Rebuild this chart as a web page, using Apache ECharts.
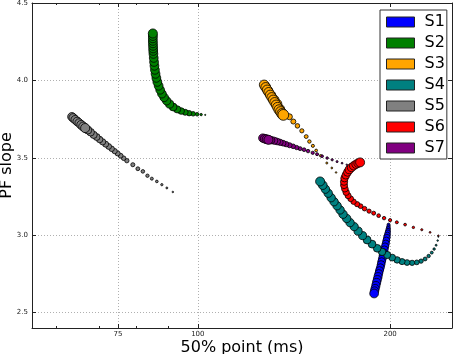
<!DOCTYPE html>
<html>
<head>
<meta charset="utf-8">
<title>PF slope vs 50% point</title>
<script src="https://cdn.jsdelivr.net/npm/echarts@6/dist/echarts.min.js"></script>
<style>html,body{margin:0;padding:0;background:#fff;}</style>
</head>
<body>
<div id="main" style="width:454px;height:354px;"></div>
<script type="text/javascript">
// each point: [50% point (ms), PF slope, marker weight], drawn from the thin tail to the big marker
var s1 = [[198.9,3.068,2.5],[198.8,3.055,3],[198.7,3.042,3.5],[198.5,3.029,4],[198.3,3.016,4.5],[198.0,3.000,5],[197.7,2.984,5.5],[197.3,2.965,5.8],[196.9,2.945,6],[196.4,2.926,6.2],[195.9,2.906,6.3],[195.4,2.887,6.4],[195.0,2.868,6.5],[194.5,2.848,6.5],[194.0,2.829,6.5],[193.6,2.810,6.5],[193.1,2.790,6.5],[192.5,2.771,6.6],[192.0,2.752,6.6],[191.5,2.732,6.7],[191.0,2.713,6.7],[190.5,2.694,6.8],[190.0,2.674,6.8],[189.5,2.655,6.9],[189.1,2.639,7],[188.8,2.623,7.3]];
var s2 = [[102.7,3.777,1],[101.2,3.779,2],[99.75,3.781,3],[98.32,3.784,3.8],[96.91,3.788,4.5],[95.53,3.794,5],[94.16,3.802,5.5],[92.81,3.813,6],[91.48,3.828,6.5],[90.33,3.847,6.8],[89.36,3.868,7],[88.56,3.890,7.1],[87.86,3.914,7.2],[87.29,3.939,7.2],[86.82,3.965,7.3],[86.42,3.990,7.3],[86.11,4.016,7.3],[85.86,4.042,7.3],[85.67,4.068,7.3],[85.52,4.094,7.3],[85.40,4.119,7.3],[85.30,4.145,7.3],[85.21,4.171,7.3],[85.15,4.190,7.3],[85.12,4.206,7.3],[85.09,4.223,7.3],[85.06,4.239,7.3],[85.03,4.255,7.3],[85.03,4.271,7.3],[85.03,4.287,7.4],[85.03,4.303,7.6]];
var s3 = [[164.6,3.405,1.3],[162.1,3.434,1.5],[159.2,3.466,1.7],[155.7,3.513,2],[153.2,3.547,2.3],[151.4,3.577,2.6],[149.5,3.605,2.9],[147.8,3.637,3.2],[145.5,3.674,3.5],[143.2,3.706,3.8],[141.1,3.734,4.2],[139.1,3.765,5],[136.1,3.777,7],[134.5,3.816,7.5],[133.1,3.848,7.8],[131.7,3.874,8],[130.2,3.903,8],[128.8,3.932,8],[127.7,3.958,8],[127.0,3.971,8],[127.7,3.955,8],[128.4,3.939,8],[129.1,3.923,8],[129.8,3.906,8],[130.5,3.890,8],[131.2,3.874,8],[131.9,3.858,8],[132.6,3.842,8],[133.3,3.826,8.2],[134.0,3.810,8.4],[134.8,3.797,8.6],[135.5,3.784,8.8],[136.1,3.777,9]];
var s4 = [[238.0,2.990,1],[237.4,2.965,1.3],[236.1,2.935,1.6],[234.4,2.910,2],[232.4,2.887,2.4],[229.8,2.865,2.8],[226.9,2.846,3.2],[223.6,2.832,3.6],[220.2,2.824,4],[216.5,2.821,4.4],[212.6,2.823,4.8],[208.8,2.829,5.1],[205.1,2.840,5.4],[201.5,2.855,5.7],[197.9,2.872,6],[194.3,2.892,6.2],[190.9,2.915,6.4],[187.4,2.942,6.5],[184.1,2.969,6.6],[181.1,2.997,6.7],[178.2,3.026,6.8],[175.7,3.055,6.9],[173.1,3.081,7],[171.0,3.108,7],[168.8,3.135,7],[167.0,3.163,7],[165.2,3.190,7],[163.4,3.216,7],[161.7,3.242,7],[160.0,3.271,7],[158.4,3.297,7],[156.9,3.323,7.2],[155.4,3.347,7.5]];
var s5 = [[91.38,3.279,1.3],[89.43,3.305,1.6],[87.83,3.326,1.9],[86.26,3.347,2.2],[84.72,3.365,2.5],[83.39,3.384,2.8],[82.02,3.412,3],[80.55,3.429,3.2],[79.11,3.455,3.4],[77.42,3.481,3.6],[76.53,3.497,3.8],[75.71,3.513,4],[74.89,3.528,4.2],[74.09,3.543,4.4],[73.29,3.558,4.6],[72.51,3.573,4.8],[71.72,3.588,5],[70.95,3.603,5.2],[70.19,3.618,5.4],[69.44,3.634,5.7],[68.69,3.648,6],[67.95,3.665,6.3],[67.27,3.679,6.6],[66.62,3.692,6.9],[65.66,3.713,7],[64.72,3.735,7],[63.91,3.755,7],[63.50,3.765,7],[63.80,3.758,7],[64.26,3.746,7],[64.72,3.735,7],[65.19,3.725,7],[65.66,3.713,7.2],[66.14,3.702,7.4],[66.62,3.692,7.6]];
var s6 = [[238.0,2.997,1.2],[231.0,3.018,1.5],[224.2,3.035,1.8],[217.5,3.050,2],[211.1,3.068,2.3],[204.9,3.083,2.5],[200.0,3.097,2.7],[195.7,3.110,2.9],[191.9,3.126,3.1],[188.5,3.142,3.3],[185.4,3.155,3.5],[182.4,3.171,3.8],[179.8,3.187,4],[177.6,3.200,4.3],[175.3,3.216,4.5],[173.5,3.235,4.8],[171.9,3.255,5],[170.7,3.277,5.3],[169.9,3.300,5.5],[169.4,3.323,5.8],[169.4,3.345,6],[169.7,3.368,6.2],[170.5,3.387,6.4],[171.5,3.406,6.6],[172.6,3.423,6.8],[174.0,3.437,7],[175.4,3.448,7],[176.9,3.458,7],[178.2,3.465,7],[179.5,3.470,7.5]];
var s7 = [[171.1,3.455,1.3],[168.2,3.465,1.5],[165.2,3.475,1.7],[162.3,3.487,1.9],[159.4,3.498,2.1],[156.5,3.510,2.3],[153.7,3.523,2.5],[151.3,3.532,2.7],[148.8,3.543,2.9],[146.7,3.552,3.1],[144.6,3.559,3.3],[142.8,3.566,3.6],[141.0,3.574,3.9],[139.2,3.581,4.2],[137.5,3.588,4.5],[136.0,3.594,4.8],[134.5,3.600,5.2],[133.1,3.605,5.6],[131.7,3.610,6],[130.2,3.614,6.4],[129.0,3.616,6.8],[127.7,3.621,7],[126.4,3.627,7],[127.2,3.623,7],[128.1,3.620,7.2],[129.0,3.616,7.5]];

var names = ['S1', 'S2', 'S3', 'S4', 'S5', 'S6', 'S7'];
var colors = ['#0000ff', '#008000', '#ffa500', '#008080', '#808080', '#ff0000', '#800080'];
var xMajor = [75, 100, 200];
var xMinor = [60, 70, 80, 90];
var yTicks = [2.5, 3.0, 3.5, 4.0, 4.5];

var font = 'DejaVu Sans';
var myChart = echarts.init(document.getElementById('main'), null, {renderer: 'canvas'});

function xAxisDef(pos, ticks, len, labels, grid) {
    return {
        type: 'log', logBase: 10, min: 55, max: 250, position: pos,
        axisLine: {show: labels, onZero: false, lineStyle: {color: '#222', width: 1}},
        axisTick: {show: true, inside: true, length: len, customValues: ticks, lineStyle: {color: '#222'}},
        axisLabel: {show: labels, customValues: ticks, margin: 3, fontSize: 7, color: '#222', fontFamily: font,
            formatter: function (v) { return String(Math.round(v)); }},
        splitLine: {show: grid, lineStyle: {color: '#b0b0b0', type: [1, 2], width: 1}}
    };
}
function yAxisDef(pos, labels) {
    return {
        type: 'value', min: 2.4, max: 4.5, position: pos,
        axisLine: {show: true, onZero: false, lineStyle: {color: '#222', width: 1}},
        axisTick: {show: true, inside: true, length: 4, customValues: yTicks, lineStyle: {color: '#222'}},
        axisLabel: {show: labels, customValues: yTicks, margin: 4, fontSize: 7, color: '#222', fontFamily: font,
            formatter: function (v) { return v.toFixed(1); }},
        splitLine: {show: labels, lineStyle: {color: '#b0b0b0', type: [1, 2], width: 1}}
    };
}

var xAxes = [xAxisDef('bottom', xMajor, 4, true, true), xAxisDef('bottom', xMinor, 2, false, false),
             xAxisDef('top', xMajor, 4, false, false), xAxisDef('top', xMinor, 2, false, false)];
xAxes[0].name = '50% point (ms)';
xAxes[0].nameLocation = 'middle';
xAxes[0].nameGap = 12;
xAxes[0].nameMoveOverlap = false;
xAxes[0].nameTextStyle = {fontSize: 16, color: '#000', fontFamily: font};
xAxes[2].axisLine.show = true;

var yAxes = [yAxisDef('left', true), yAxisDef('right', false)];
yAxes[0].name = 'PF slope';
yAxes[0].nameLocation = 'middle';
yAxes[0].nameGap = 17;
yAxes[0].nameMoveOverlap = false;
yAxes[0].nameTextStyle = {fontSize: 16, color: '#000', fontFamily: font};

var allData = [s1, s2, s3, s4, s5, s6, s7];
var series = allData.map(function (d, i) {
    return {
        name: names[i], type: 'scatter', data: d,
        xAxisIndex: 0, yAxisIndex: 0,
        symbol: 'circle',
        symbolSize: function (v) { return v[2] * 1.2; },
        itemStyle: {color: colors[i], borderColor: '#000', borderWidth: 0.8, opacity: 1},
        emphasis: {disabled: true},
        z: 2 + i
    };
});

var option = {
    animation: false,
    backgroundColor: '#fff',
    textStyle: {fontFamily: font},
    grid: {left: 32, right: 2, top: 3, bottom: 26, containLabel: false, outerBoundsMode: 'none'},
    legend: {
        data: names, orient: 'vertical', left: 380, top: 10,
        icon: 'rect', itemWidth: 28, itemHeight: 10, itemGap: 5,
        padding: [4, 2, 3, 6],
        backgroundColor: '#fff', borderColor: '#333', borderWidth: 1,
        itemStyle: {borderColor: '#222', borderWidth: 1},
        textStyle: {fontSize: 16, color: '#000', fontFamily: font, lineHeight: 16, padding: [0, 0, 0, 5]},
        selectedMode: false
    },
    xAxis: xAxes,
    yAxis: yAxes,
    series: series
};
myChart.setOption(option);
</script>
</body>
</html>
